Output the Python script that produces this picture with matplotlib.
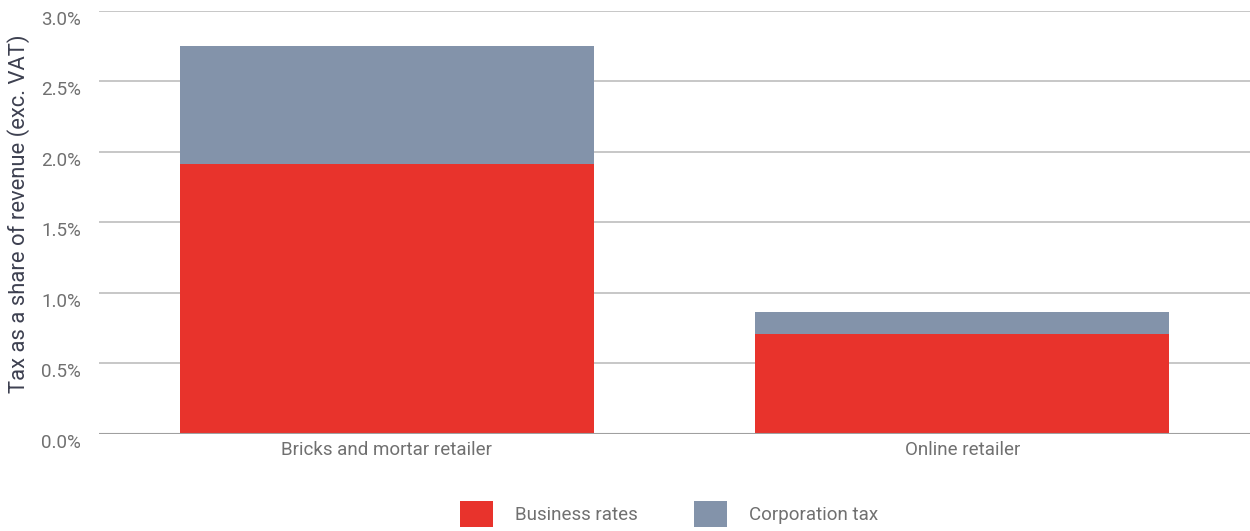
import matplotlib
matplotlib.use('Agg')
import matplotlib.pyplot as plt
import matplotlib.ticker as ticker
import numpy as np

plt.rcParams['font.family'] = ['Roboto', 'DejaVu Sans']

# Tax as a share of revenue, in percent
retailers = ["Bricks and mortar retailer", "Online retailer"]
business_rates = [1.91, 0.71]
corporation_tax = [0.84, 0.155]

RED = "#E8332C"
SLATE = "#8393AA"

fig = plt.figure(figsize=(12.5, 5.31), dpi=100)
ax = fig.add_axes([0.0792, 0.1827, 0.9208, 0.7973])

x = np.arange(len(retailers))
ax.bar(x, business_rates, width=0.72, color=RED, label="Business rates", zorder=3)
ax.bar(x, corporation_tax, width=0.72, bottom=business_rates, color=SLATE,
       label="Corporation tax", zorder=3)

ax.set_xlim(-0.5, 1.5)
ax.set_ylim(0, 3.0)
ax.yaxis.set_major_locator(ticker.MultipleLocator(0.5))
ax.yaxis.set_major_formatter(ticker.FuncFormatter(lambda v, _: f"{v:.1f}%"))
ax.set_xticks(x)
ax.set_xticklabels(retailers)

ax.grid(axis='y', color="#BDBDBD", linewidth=1.2, zorder=0)
ax.axhline(0, color="#A0A0A0", linewidth=1.5, zorder=4)
for s in ax.spines.values():
    s.set_visible(False)
ax.tick_params(axis='both', length=0, labelsize=13.5, colors="#707070")
ax.tick_params(axis='y', pad=13)
ax.tick_params(axis='x', pad=5)
for lbl in ax.get_yticklabels():
    lbl.set_va('top')

fig.text(0.0150, 0.597, "Tax as a share of revenue (exc. VAT)", rotation=90,
         ha='center', va='center', fontsize=15.8, color="#3D4050")

fig.legend(loc='center', bbox_to_anchor=(0.535, 0.032), ncol=2, frameon=False,
           fontsize=13.5, labelcolor="#707070", handlelength=1.76, handleheight=1.76,
           handletextpad=1.17, columnspacing=3.0, borderpad=0)

fig.savefig("out.png", dpi=100)
